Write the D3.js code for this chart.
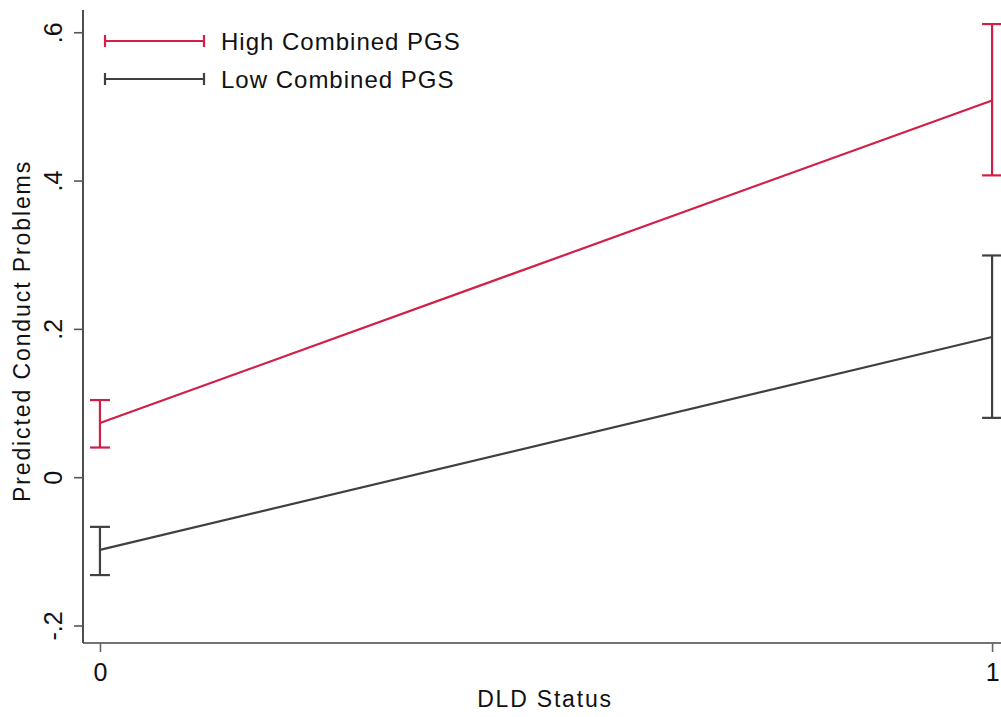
<!DOCTYPE html>
<html>
<head>
<meta charset="utf-8">
<script src="https://cdn.jsdelivr.net/npm/d3@7"></script>
<style>
  html, body { margin: 0; padding: 0; background: #fff; }
  svg { display: block; font-family: "Liberation Sans", Arial, sans-serif; }
</style>
</head>
<body>
<svg id="chart" width="1001" height="717"></svg>
<script>
// DLD status categories on the x axis
const dldStatus = [0, 1];

// Predicted conduct problems with 95% confidence limits
const seriesNames = ["High Combined PGS", "Low Combined PGS"];
const highEstimate = [0.073, 0.508];
const highLower = [0.040, 0.407];
const highUpper = [0.104, 0.611];
const lowEstimate = [-0.098, 0.189];
const lowLower = [-0.132, 0.080];
const lowUpper = [-0.067, 0.299];

const yTicks = [-0.2, 0, 0.2, 0.4, 0.6];
const yTickLabels = ["-.2", "0", ".2", ".4", ".6"];
const xTicks = [0, 1];

const colors = ["#d11f47", "#404040"];

const svg = d3.select("#chart");
const plot = { left: 83, right: 1001, top: 10, bottom: 643 };

const x = d3.scaleLinear().domain([-0.019, 1.01]).range([plot.left, plot.right]);
const y = d3.scaleLinear().domain([-0.2236, 0.63]).range([plot.bottom, plot.top]);

// Axes
const yAxis = d3.axisLeft(y).tickValues(yTicks)
  .tickFormat((d, i) => yTickLabels[i]).tickSize(9).tickPadding(6);
const gy = svg.append("g").attr("transform", `translate(${plot.left},0)`).call(yAxis);
gy.select(".domain").attr("stroke", "#222").attr("stroke-width", 1.6)
  .attr("d", `M0,${plot.bottom}V${plot.top}`);
gy.selectAll(".tick line").attr("stroke", "#555").attr("stroke-width", 1.6);
gy.selectAll(".tick text")
  .attr("font-size", 25).attr("fill", "#111")
  .attr("transform", "rotate(-90)")
  .attr("x", 0).attr("y", -21)
  .attr("dy", 0)
  .attr("text-anchor", "middle");

const xAxis = d3.axisBottom(x).tickValues(xTicks).tickFormat(d3.format("d"))
  .tickSize(9).tickPadding(11);
const gx = svg.append("g").attr("transform", `translate(0,${plot.bottom})`).call(xAxis);
gx.select(".domain").attr("stroke", "#444").attr("stroke-width", 1.6)
  .attr("d", `M${plot.left},0H${plot.right}`);
gx.selectAll(".tick line").attr("stroke", "#666").attr("stroke-width", 1.6);
gx.selectAll(".tick text").attr("font-size", 25).attr("fill", "#111");

// Axis titles
svg.append("text")
  .attr("transform", `translate(30,331) rotate(-90)`)
  .attr("text-anchor", "middle").attr("font-size", 23)
  .attr("letter-spacing", 1.9).attr("fill", "#111")
  .text("Predicted Conduct Problems");
svg.append("text")
  .attr("x", 545).attr("y", 707)
  .attr("text-anchor", "middle").attr("font-size", 23)
  .attr("letter-spacing", 1.8).attr("fill", "#111")
  .text("DLD Status");

// Series
const series = [
  { name: seriesNames[0], est: highEstimate, lo: highLower, hi: highUpper, color: colors[0] },
  { name: seriesNames[1], est: lowEstimate, lo: lowLower, hi: lowUpper, color: colors[1] }
];

const line = d3.line().x(d => x(d[0])).y(d => y(d[1]));
const capHalf = 10;

series.forEach(s => {
  const g = svg.append("g");
  const pts = dldStatus.map((d, i) => [d, s.est[i]]);
  g.append("path").datum(pts).attr("d", line)
    .attr("fill", "none").attr("stroke", s.color).attr("stroke-width", 2.2);
  dldStatus.forEach((d, i) => {
    const cx = x(d);
    g.append("line").attr("x1", cx).attr("x2", cx)
      .attr("y1", y(s.lo[i])).attr("y2", y(s.hi[i]))
      .attr("stroke", s.color).attr("stroke-width", 2.2);
    [s.lo[i], s.hi[i]].forEach(v => {
      g.append("line").attr("x1", cx - capHalf).attr("x2", cx + capHalf)
        .attr("y1", y(v)).attr("y2", y(v))
        .attr("stroke", s.color).attr("stroke-width", 2.2);
    });
  });
});

// Legend
const legend = svg.append("g");
series.forEach((s, i) => {
  const ly = 41 + i * 38;
  const g = legend.append("g");
  g.append("line").attr("x1", 105).attr("x2", 204).attr("y1", ly).attr("y2", ly)
    .attr("stroke", s.color).attr("stroke-width", 2.2);
  [105, 204].forEach(px => {
    g.append("line").attr("x1", px).attr("x2", px).attr("y1", ly - 6).attr("y2", ly + 6)
      .attr("stroke", s.color).attr("stroke-width", 2.2);
  });
  g.append("text").attr("x", 221).attr("y", ly + 9)
    .attr("font-size", 24).attr("letter-spacing", 1.0)
    .attr("fill", "#111").text(s.name);
});
</script>
</body>
</html>
